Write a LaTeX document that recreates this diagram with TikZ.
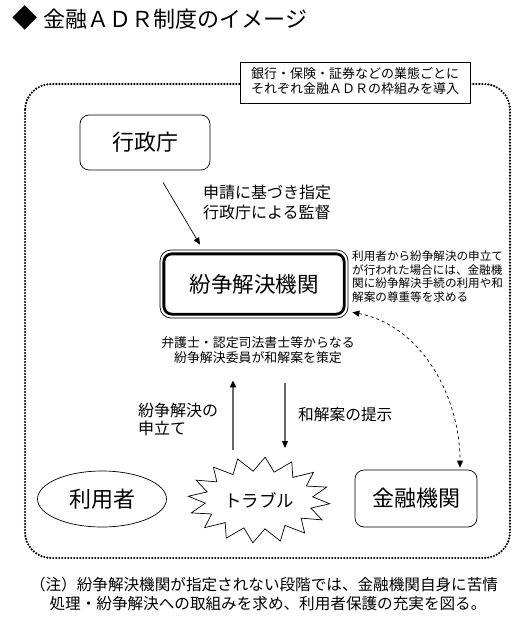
\documentclass[tikz,border=0pt]{standalone}
\usepackage{fontspec}
\setmainfont{Noto Sans CJK JP}
\usetikzlibrary{arrows.meta,calc,shapes.geometric}
\tikzset{
  txt/.style={inner sep=0pt, text=black},
  rbox/.style={draw, rounded corners=9pt, line width=0.7pt, inner sep=0pt, fill=white},
  tip/.style={-{Triangle[length=7pt,width=6pt]}},
  graytip/.style={draw=black!60, -{Triangle[length=7pt,width=6pt,fill=black,color=black]}},
}
\begin{document}
\begin{tikzpicture}[x=1pt,y=-1pt]
\useasboundingbox (0,0) rectangle (520,634);
\fill[white] (0,0) rectangle (520,634);
% title
\node[txt, anchor=west, font=\fontsize{22}{26}\selectfont] (title) at (12,18) {\scalebox{1.15}{◆}\hspace{6pt}金融ＡＤＲ制度のイメージ};
% dotted frame
\draw[line width=2.4pt, line cap=round, dash pattern=on 0pt off 3pt, rounded corners=26pt] (25,84) rectangle (510,558);
% note box
\node[draw, fill=white, line width=0.7pt, minimum width=230pt, minimum height=41pt, inner sep=0pt, align=left,
      font=\fontsize{13}{14}\selectfont] (note) at (355,82.5) {\raisebox{-3pt}{\begin{tabular}{@{}l@{}}銀行・保険・証券などの業態ごとに\\[-0.5pt]それぞれ金融ＡＤＲの枠組みを導入\end{tabular}}};
% nodes
\node[rbox, minimum width=130pt, minimum height=55pt, font=\fontsize{22}{26}\selectfont] (gyosei) at (145,142.5) {行政庁};
\node[draw, line width=0.7pt, rounded corners=11pt, minimum width=188pt, minimum height=68pt, inner sep=0pt,
      font=\fontsize{21.5}{26}\selectfont] (funso) at (254,284) {紛争解決機関};
\draw[line width=2.8pt, rounded corners=8pt] ([shift={(4.2,4.2)}]funso.north west) rectangle ([shift={(-4.2,-4.2)}]funso.south east);
\node[draw, ellipse, line width=0.7pt, minimum width=129pt, minimum height=56pt, inner sep=0pt,
      font=\fontsize{22}{26}\selectfont] (riyosha) at (102,499) {利用者};
\node[rbox, minimum width=122pt, minimum height=57pt, font=\fontsize{22}{26}\selectfont] (kinyu) at (416,498.5) {金融機関};
% starburst
\coordinate (tc) at (259,500);
\draw[line width=0.7pt, shift={(259,500)}] plot[samples at={0,...,31}] ({(71-17*mod(\x,2))*cos(11.25*\x+5)}, {(43-14*mod(\x,2))*sin(11.25*\x+5)}) -- cycle;
\node[txt, font=\fontsize{17.5}{20}\selectfont] (trouble) at (tc) {トラブル};
% labels
\node[txt, anchor=west, align=left, font=\fontsize{16}{20}\selectfont] (shinsei) at (203,202) {申請に基づき指定\\行政庁による監督};
\node[txt, anchor=west, align=left, font=\fontsize{11.6}{13.7}\selectfont] (rnote) at (352,276.5) {利用者から紛争解決の申立て\\が行われた場合には、金融機\\関に紛争解決手続の利用や和\\解案の尊重等を求める};
\node[txt, align=center, font=\fontsize{12.9}{15}\selectfont] (bengo) at (258,350.5) {弁護士・認定司法書士等からなる\\紛争解決委員が和解案を策定};
\node[txt, anchor=west, align=left, font=\fontsize{16}{18}\selectfont] (moshi) at (138,419) {紛争解決の\\申立て};
\node[txt, anchor=west, font=\fontsize{15.7}{18}\selectfont] (wakai) at (298,415) {和解案の提示};
\node[txt, align=center, font=\fontsize{15.6}{18.5}\selectfont] (foot) at (264,594) {（注）紛争解決機関が指定されない段階では、金融機関自身に苦情\\\hspace*{8pt}処理・紛争解決への取組みを求め、利用者保護の充実を図る。};
% connectors
\draw[tip, line width=0.7pt] ($(gyosei.south)+(18,12)$) -- ($(funso.north)+(-54,-5)$);
\coordinate (upS) at ($(tc)+(-26,-50)$);
\coordinate (upE) at ($(funso.south)+(-21,62)$);
\draw[graytip, line width=1.8pt] (upS) -- (upE);
\coordinate (dnS) at ($(funso.south)+(31,65)$);
\coordinate (dnE) at ($(tc)+(26,-52)$);
\draw[graytip, line width=1.1pt] (dnS) -- (dnE);
\draw[dashed, line width=0.7pt, {Triangle[length=7pt,width=6pt]}-{Triangle[length=7pt,width=6pt]}]
  ($(funso.south east)+(4,-6)$) .. controls (420,325) and (460,395) .. ($(kinyu.north)+(44,-2)$);
\end{tikzpicture}
\end{document}
